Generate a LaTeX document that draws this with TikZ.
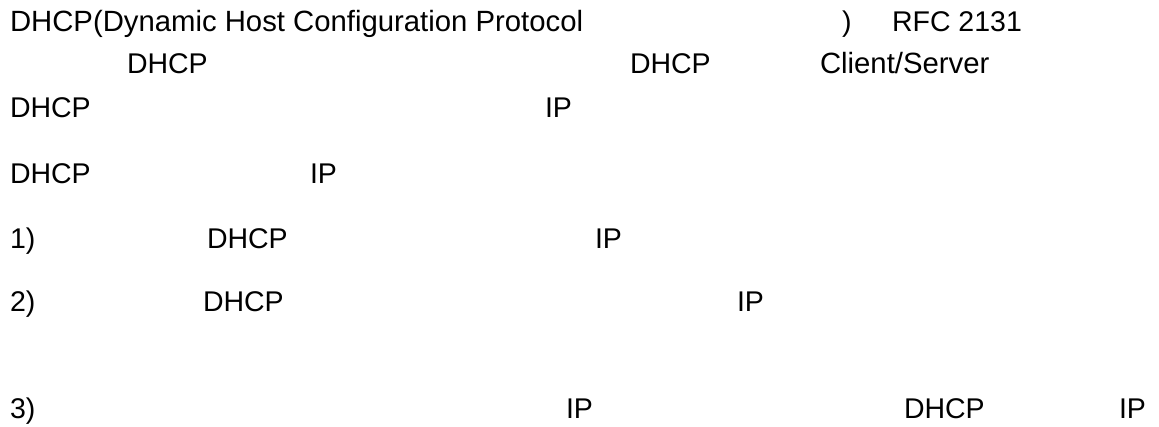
\documentclass[tikz,border=0pt]{standalone}
\usepackage{fontspec}
\setmainfont{Liberation Sans}
\begin{document}
\begin{tikzpicture}[x=1pt,y=-1pt,
  txt/.style={anchor=base west,inner sep=0pt,outer sep=0pt,text=black,font=\fontsize{28.5}{34}\selectfont},
  widetxt/.style={txt,font=\fontsize{29.3}{34}\selectfont}]
\useasboundingbox[fill=white] (0,0) rectangle (1159,426);
% line 1
\node[widetxt] (l1a) at (10,31) {DHCP(Dynamic Host Configuration Protocol};
\node[txt] (l1b) at (842,31) {)};
\node[txt] (l1c) at (892,31) {RFC 2131};
% line 2
\node[txt] (l2a) at (127,73) {DHCP};
\node[txt] (l2b) at (630,73) {DHCP};
\node[widetxt] (l2c) at (820,73) {Client/Server};
% line 3
\node[txt] (l3a) at (10,117) {DHCP};
\node[txt] (l3b) at (545,117) {IP};
% line 4
\node[txt] (l4a) at (10,183) {DHCP};
\node[txt] (l4b) at (310,183) {IP};
% line 5
\node[txt] (l5a) at (10,248) {1)};
\node[txt] (l5b) at (207,248) {DHCP};
\node[txt] (l5c) at (595,248) {IP};
% line 6
\node[txt] (l6a) at (10,311) {2)};
\node[txt] (l6b) at (203,311) {DHCP};
\node[txt] (l6c) at (737,311) {IP};
% line 7
\node[txt] (l7a) at (10,418) {3)};
\node[txt] (l7b) at (566,418) {IP};
\node[txt] (l7c) at (904,418) {DHCP};
\node[txt] (l7d) at (1119,418) {IP};
\end{tikzpicture}
\end{document}
